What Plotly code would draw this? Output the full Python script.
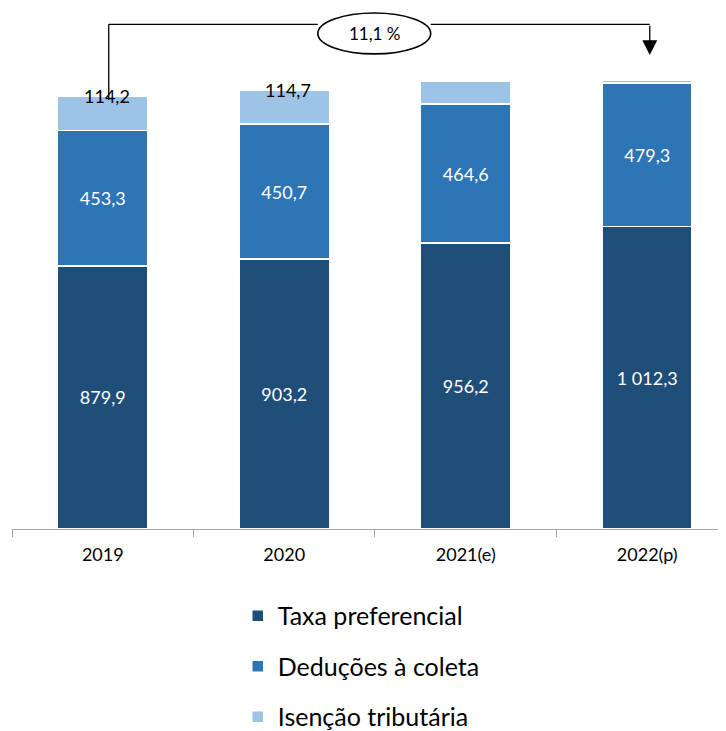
import plotly.graph_objects as go

years = ["2019", "2020", "2021(e)", "2022(p)"]
taxa = [879.9, 903.2, 956.2, 1012.3]
deducoes = [453.3, 450.7, 464.6, 479.3]
isencao = [114.2, 114.7, 78.0, 10.0]
isencao_labels = ["114,2", "114,7", "", ""]
growth_label = "11,1 %"

names = ["Taxa preferencial", "Deduções à coleta", "Isenção tributária"]
colors = ["#1F4E79", "#2E75B6", "#9DC3E6"]
FONT = "Lato"


def pt(v):
    s = f"{v:,.1f}"
    return s.replace(",", " ").replace(".", ",")


fig = go.Figure()
series = [taxa, deducoes, isencao]
for i, (vals, name, col) in enumerate(zip(series, names, colors)):
    txt = [pt(v) for v in vals] if i < 2 else None
    fig.add_trace(go.Bar(
        x=years, y=vals, name=name, legendgroup=name,
        marker=dict(color=col, line=dict(color="white", width=1.5)),
        text=txt, textposition="inside" if txt else "none",
        insidetextanchor="middle", constraintext="none", textangle=0,
        textfont=dict(color="white", size=18, family=FONT),
        hoverinfo="skip",
    ))

totals = [a + b + c for a, b, c in zip(taxa, deducoes, isencao)]

annotations = []
for i, lab in enumerate(isencao_labels):
    if lab:
        annotations.append(dict(x=i, y=totals[i], xref="x", yref="y", text=lab,
                                showarrow=False, yanchor="middle", xshift=4,
                                font=dict(size=18, color="black", family=FONT)))

# bracket connector
y_line = 1688
x_left = 0.033
x_right = 3.014
ell_x0, ell_x1 = 1.185, 1.807
ell_y0, ell_y1 = 1589, 1726
shapes = [
    dict(type="line", xref="x", yref="y", x0=x_left, x1=x_left, y0=totals[0] - 12, y1=y_line,
         line=dict(color="black", width=1.3), layer="above"),
    dict(type="line", xref="x", yref="y", x0=x_left, x1=ell_x0, y0=y_line, y1=y_line,
         line=dict(color="black", width=1.3), layer="above"),
    dict(type="line", xref="x", yref="y", x0=ell_x1, x1=x_right, y0=y_line, y1=y_line,
         line=dict(color="black", width=1.3), layer="above"),
    dict(type="circle", xref="x", yref="y", x0=ell_x0, x1=ell_x1, y0=ell_y0, y1=ell_y1,
         line=dict(color="black", width=1.6), fillcolor="white", layer="above"),
]
annotations.append(dict(x=(ell_x0 + ell_x1) / 2, y=(ell_y0 + ell_y1) / 2, xref="x", yref="y",
                        text=growth_label, showarrow=False,
                        font=dict(size=17, color="black", family=FONT)))
annotations.append(dict(x=x_right, y=1585, xref="x", yref="y", ax=x_right, ay=y_line,
                        axref="x", ayref="y", text="", showarrow=True, arrowhead=2,
                        arrowsize=2.3, arrowwidth=1.3, arrowcolor="black", standoff=0))

fig.update_layout(
    width=718, height=723,
    margin=dict(l=4, r=0, t=0, b=202, autoexpand=False),
    barmode="stack", bargap=0.504,
    plot_bgcolor="white", paper_bgcolor="white",
    font=dict(family=FONT, color="black"),
    shapes=shapes, annotations=annotations,
    legend=dict(orientation="v", xref="container", yref="container",
                x=0.320, y=0.191, xanchor="left", yanchor="top",
                traceorder="grouped", tracegroupgap=15,
                font=dict(size=25, family=FONT, color="black")),
    xaxis=dict(type="category", range=[-0.5, 3.434], tickson="boundaries",
               ticks="outside", ticklen=7, tickcolor="#A6A6A6",
               showline=True, linecolor="#A6A6A6", linewidth=1, tickangle=0,
               ticklabelstandoff=9,
               showgrid=False, tickfont=dict(size=18, family=FONT, color="black")),
    yaxis=dict(range=[0, 521 / 0.299], visible=False, showgrid=False),
)

fig.write_html("out.html")
